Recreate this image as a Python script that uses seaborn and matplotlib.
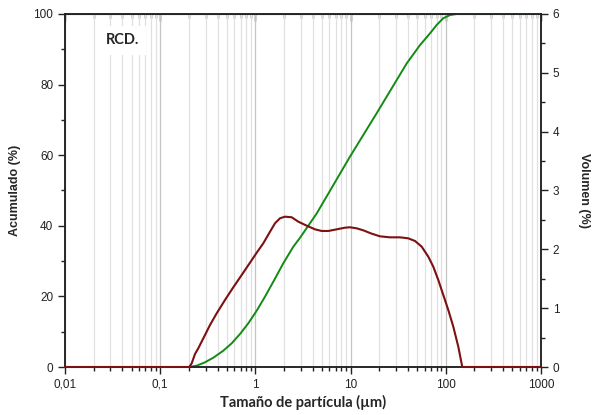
import matplotlib
matplotlib.use("Agg")
import matplotlib.pyplot as plt
import matplotlib.ticker as mticker
import numpy as np
import pandas as pd
import seaborn as sns

# ---- data ----
vol_size = [0.01, 0.2021, 0.2143, 0.232, 0.2513, 0.2955, 0.3336, 0.3923, 0.4794,
            0.586, 0.7179, 0.8776, 1.032, 1.211, 1.424, 1.607, 1.813, 2.046, 2.406,
            2.825, 3.459, 4.227, 4.970, 5.834, 7.145, 8.734, 9.856, 11.59, 13.59,
            16.66, 20.36, 25.93, 33.03, 40.37, 47.48, 55.83, 65.50, 73.9, 83.4,
            94.1, 106.2, 119.9, 135.3, 149.0, 1000]
vol_pct = [0, 0, 0.063, 0.221, 0.318, 0.544, 0.714, 0.913, 1.139,
           1.355, 1.564, 1.773, 1.943, 2.103, 2.300, 2.443, 2.528, 2.555, 2.545,
           2.470, 2.402, 2.340, 2.312, 2.312, 2.340, 2.368, 2.375, 2.357, 2.323,
           2.266, 2.221, 2.204, 2.204, 2.187, 2.142, 2.045, 1.875, 1.705, 1.479,
           1.224, 0.969, 0.685, 0.345, 0, 0]

cum_size = [0.01, 0.2021, 0.2417, 0.2955, 0.3612, 0.460, 0.5636, 0.6892, 0.8423,
            1.032, 1.261, 1.542, 1.964, 2.501, 2.941, 4.405, 9.856, 18.8, 38.85,
            53.6, 68.2, 80.2, 94.1, 110.7, 130.2, 1000]
cum_pct = [0, 0, 0.37, 1.33, 2.63, 4.62, 6.71, 9.35, 12.38,
           15.95, 19.92, 24.16, 29.38, 34.08, 36.6, 43.5, 59.6, 71.9, 86.0,
           91.2, 94.5, 96.9, 98.8, 99.7, 100, 100]

x_ticks = [0.01, 0.1, 1, 10, 100, 1000]
x_ticklabels = ["0,01", "0,1", "1", "10", "100", "1000"]

sns.set_style("ticks")
plt.rcParams["font.family"] = ["Liberation Sans", "DejaVu Sans"]

fig = plt.figure(figsize=(5.94, 4.15), dpi=100)
ax = fig.add_axes([65 / 594, 1 - 367 / 415, 476 / 594, 353 / 415])
ax2 = ax.twinx()

df_cum = pd.DataFrame({"size": cum_size, "cum": cum_pct})
df_vol = pd.DataFrame({"size": vol_size, "vol": vol_pct})

sns.lineplot(data=df_cum, x="size", y="cum", ax=ax, color="#138a13", lw=1.4,
             sort=False, estimator=None)
sns.lineplot(data=df_vol, x="size", y="vol", ax=ax2, color="#7d1010", lw=1.5,
             sort=False, estimator=None)
for l in ax2.lines:
    l.set_zorder(3)
    l.set_clip_on(False)

ax.set_xscale("log")
ax.set_xlim(0.01, 1000)
ax.set_ylim(0, 100)
ax2.set_ylim(0, 6)

ax.xaxis.set_major_locator(mticker.FixedLocator(x_ticks))
ax.xaxis.set_major_formatter(mticker.FixedFormatter(x_ticklabels))
ax.xaxis.set_minor_locator(mticker.LogLocator(base=10, subs=np.arange(2, 10)))
ax.xaxis.set_minor_formatter(mticker.NullFormatter())
ax.set_yticks(np.arange(0, 101, 20))
ax.yaxis.set_minor_locator(mticker.MultipleLocator(10))
ax2.set_yticks(np.arange(0, 7, 1))
ax2.yaxis.set_minor_locator(mticker.MultipleLocator(0.5))

# grid
ax.grid(axis="x", which="major", color="#c4c4c4", lw=0.9)
ax.grid(axis="x", which="minor", color="#e0e0e0", lw=0.9)
ax.set_axisbelow(True)

for a in (ax, ax2):
    for s in a.spines.values():
        s.set_visible(True)
        s.set_color("#222222")
        s.set_linewidth(1.1)

ax.tick_params(axis="both", which="major", direction="out", length=5, width=1,
               labelsize=8.5, color="#222222", labelcolor="#222222")
ax.tick_params(axis="both", which="minor", direction="out", length=3, width=1,
               color="#222222")
ax2.tick_params(axis="y", which="major", direction="out", length=5, width=1,
                labelsize=8.5, color="#222222", labelcolor="#222222")
ax2.tick_params(axis="y", which="minor", direction="out", length=3, width=1,
                color="#222222")

# top ticks pointing inward
top = ax.secondary_xaxis("top")
top.xaxis.set_major_locator(mticker.FixedLocator(x_ticks))
top.xaxis.set_minor_locator(mticker.LogLocator(base=10, subs=np.arange(2, 10)))
top.tick_params(which="major", direction="in", length=5, width=1, labeltop=False)
top.tick_params(which="minor", direction="in", length=3, width=1)
top.xaxis.set_minor_formatter(mticker.NullFormatter())
top.xaxis.set_major_formatter(mticker.NullFormatter())

ax.set_xlabel("Tamaño de partícula (µm)", fontsize=10.5, fontweight="bold",
              family=["Lato", "DejaVu Sans"], labelpad=3)
ax.set_ylabel("Acumulado (%)", fontsize=9, fontweight="bold", labelpad=9)
ax2.set_ylabel("Volumen (%)", fontsize=9, fontweight="bold", rotation=270,
               labelpad=22)

ax.text(0.12, 0.925, "RCD.", transform=ax.transAxes, fontsize=10.5,
        fontweight="bold", family=["Lato", "DejaVu Sans"], ha="center", va="center",
        bbox=dict(boxstyle="square,pad=0.5", fc="white", ec="none"), zorder=1.5)

fig.savefig("out.png", dpi=100)
